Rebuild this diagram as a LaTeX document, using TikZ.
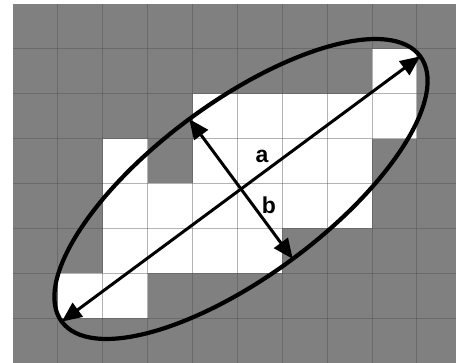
\documentclass[tikz,border=0pt]{standalone}
\usepackage{fontspec}
\setmainfont{Liberation Sans}
\usetikzlibrary{arrows.meta,calc}
\begin{document}
\begin{tikzpicture}[x=1pt,y=1pt,
  cellfill/.style={fill=white},
  gridline/.style={draw=black!70, line width=0.9pt, opacity=0.42},
  ring/.style={draw=black, line width=4.2pt},
  axisarrow/.style={draw=black, line width=3pt, {Triangle[length=20pt,width=17pt]}-{Triangle[length=20pt,width=17pt]}},
  lab/.style={font=\fontsize{23}{25}\selectfont\bfseries, inner sep=0pt}]
\def\s{44.875}
\useasboundingbox (0,0) rectangle (456,363);
\fill[white] (0,0) rectangle (456,363);
\fill[black!50] (13,0) rectangle (456,359);
% white cells (col,row), row 0 at top
\foreach \c/\r in {8/1, 4/2,5/2,6/2,7/2,8/2, 2/3,4/3,5/3,6/3,7/3, 2/4,3/4,4/4,5/4,6/4,7/4, 2/5,3/5,4/5,5/5, 1/6,2/6}{
  \fill[cellfill] ({13+\c*\s},{359-\r*\s}) rectangle ({13+(\c+1)*\s},{359-(\r+1)*\s});
}
\foreach \i in {1,...,9}{
  \draw[gridline] ({13+\i*\s},0) -- ({13+\i*\s},359);
}
\foreach \j in {1,...,7}{
  \draw[gridline] (13,{359-\j*\s}) -- (456,{359-\j*\s});
}
\coordinate (c) at (241,174);
\draw[ring, rotate around={36.5:(c)}] (c) ellipse [x radius=223, y radius=87];
\coordinate (a1) at ($(c)+(216.5:223)$);
\coordinate (a2) at ($(c)+(36.5:223)$);
\coordinate (b1) at ($(c)+(126.5:87)$);
\coordinate (b2) at ($(c)+(-53.5:87)$);
\draw[axisarrow] (a1) -- (a2);
\draw[axisarrow] (b1) -- (b2);
\node[lab] (la) at (262,207) {a};
\node[lab] (lb) at (269,158) {b};
\end{tikzpicture}
\end{document}
